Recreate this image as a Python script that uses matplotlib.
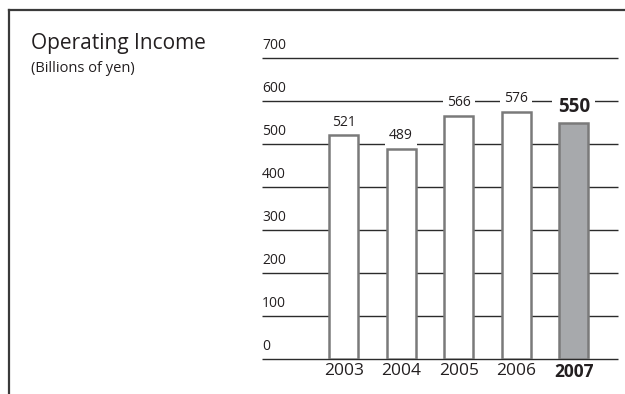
import matplotlib
matplotlib.use('Agg')
import matplotlib.pyplot as plt
from matplotlib.lines import Line2D
import matplotlib.transforms as mtransforms

years = ['2003', '2004', '2005', '2006', '2007']
income = [521, 489, 566, 576, 550]
yticks = [0, 100, 200, 300, 400, 500, 600, 700]

narrow = ['Liberation Sans Narrow', 'Open Sans', 'DejaVu Sans']
plain = ['Open Sans', 'DejaVu Sans']


def main():
    fig = plt.figure(figsize=(6.25, 3.94), dpi=100)
    ax = fig.add_axes([262 / 625, 34.7 / 394, 356 / 625, 301 / 394])
    ax.set_xlim(-1.42, 4.77)
    ax.set_ylim(0, 700)
    for s in ax.spines.values():
        s.set_visible(False)
    ax.set_yticks([])

    # horizontal rules with the scale written above each one
    trans = mtransforms.blended_transform_factory(ax.transAxes, ax.transData)
    ax.hlines(yticks, 0, 1, transform=trans, color='#2b2b2b', lw=1.0,
              zorder=1, clip_on=False)
    for v in yticks:
        ax.text(0, v + 12, str(v), transform=trans, ha='left', va='bottom',
                fontsize=10, family=narrow, color='#231f20')

    colors = ['white'] * (len(years) - 1) + ['#a7a9ac']
    x = range(len(years))
    ax.bar(x, income, width=0.51, color=colors, edgecolor='#7a7a7a',
           linewidth=1.8, zorder=3)

    for i, v in enumerate(income):
        last = i == len(income) - 1
        ax.annotate(str(v), (i, v), xytext=(0, 4),
                    textcoords='offset points', ha='center', va='bottom',
                    fontsize=13.5 if last else 10,
                    fontweight='bold' if last else 'normal',
                    family=narrow, color='#231f20', zorder=2,
                    bbox=dict(boxstyle='square,pad=0.3', fc='white',
                              ec='none'))

    ax.set_xticks(list(x))
    ax.set_xticklabels(years, family=narrow, fontsize=12.5, color='#231f20')
    ax.get_xticklabels()[-1].set_fontweight('bold')
    ax.tick_params(axis='x', length=0, pad=3)

    fig.text(31 / 625, 1 - 43 / 394, 'Operating Income', ha='left',
             va='center', fontsize=15, family=plain, color='#231f20')
    fig.text(31 / 625, 1 - 68 / 394, '(Billions of yen)', ha='left',
             va='center', fontsize=10.5, family=plain, color='#231f20')

    # frame: top and left edges only
    fig.add_artist(Line2D([9 / 625, 1], [1 - 9.5 / 394, 1 - 9.5 / 394],
                          transform=fig.transFigure, color='#3a3a3a', lw=1.6))
    fig.add_artist(Line2D([9 / 625, 9 / 625], [1 - 9.5 / 394, 0],
                          transform=fig.transFigure, color='#3a3a3a', lw=1.6))

    fig.savefig('out.png', dpi=100, facecolor='white')


if __name__ == '__main__':
    main()
